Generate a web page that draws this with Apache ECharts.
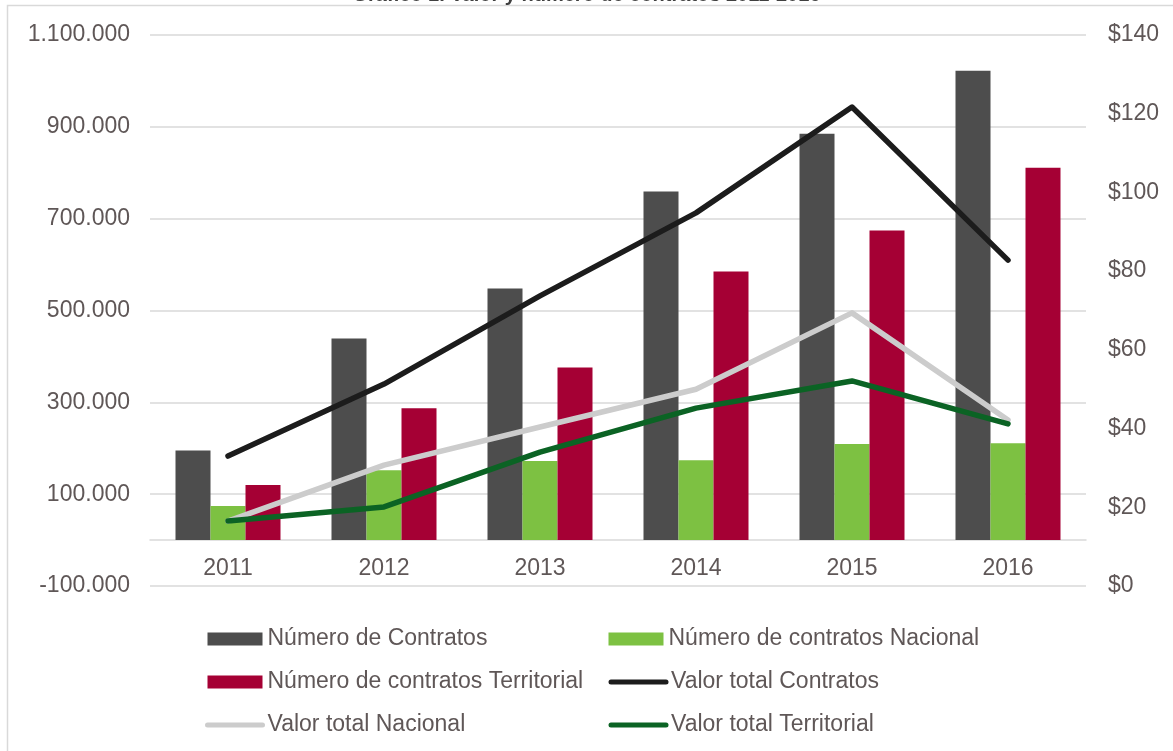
<!DOCTYPE html>
<html>
<head>
<meta charset="utf-8">
<style>
  html, body { margin: 0; padding: 0; background: #ffffff; }
  #chart-container { width: 1173px; height: 751px; }
</style>
<script src="https://cdn.jsdelivr.net/npm/echarts@6/dist/echarts.min.js"></script>
</head>
<body>
<div id="chart-container"></div>
<script>
var years = ['2011', '2012', '2013', '2014', '2015', '2016'];

// Número de contratos (eje izquierdo)
var contratosTotal = [195000, 439000, 548000, 759000, 885000, 1022000];
var contratosNacional = [74000, 152000, 172000, 174000, 209000, 211000];
var contratosTerritorial = [120000, 287000, 376000, 585000, 674000, 811000];

// Valor total en billones (eje derecho)
var valorTotal = [33.0, 51.3, 73.7, 94.8, 121.7, 82.8];
var valorNacional = [16.5, 30.7, 40.4, 50.0, 69.4, 42.2];
var valorTerritorial = [16.5, 20.1, 34.0, 45.2, 52.1, 41.2];

var textColor = '#5f5757';
var fontFamily = '"Liberation Sans", Arial, sans-serif';

var dom = document.getElementById('chart-container');
var myChart = echarts.init(dom, null, { renderer: 'canvas' });

function puntos(v) {
  var s = Math.abs(v).toString().replace(/\B(?=(\d{3})+(?!\d))/g, '.');
  return (v < 0 ? '-' : '') + s;
}

// icono de línea en la leyenda sin el círculo
function lineaLeyenda(nombre) {
  return {
    name: nombre,
    itemStyle: { opacity: 0 },
    lineStyle: { width: 5, cap: 'round' }
  };
}

var option = {
  animation: false,
  backgroundColor: '#ffffff',
  title: {
    text: 'Gráfico 1. Valor y número de contratos 2011-2016',
    left: 'center',
    top: -20,
    textStyle: { color: '#404040', fontSize: 20, fontWeight: 'bold', fontFamily: fontFamily }
  },
  graphic: [{
    type: 'rect',
    shape: { x: 7.5, y: 5.5, width: 1200, height: 800 },
    style: { fill: 'none', stroke: '#d9d9d9', lineWidth: 1.5 },
    silent: true
  }],
  grid: { left: 150, right: 87, top: 35, bottom: 165 },
  legend: {
    left: 200,
    top: 615,
    width: 820,
    itemWidth: 55,
    itemHeight: 13,
    itemGap: 5,
    textStyle: {
      color: textColor, fontSize: 23, fontFamily: fontFamily,
      width: 336, lineHeight: 38, overflow: 'none'
    },
    data: [
      { name: 'Número de Contratos', icon: 'rect' },
      { name: 'Número de contratos Nacional', icon: 'rect' },
      { name: 'Número de contratos Territorial', icon: 'rect' },
      lineaLeyenda('Valor total Contratos'),
      lineaLeyenda('Valor total Nacional'),
      lineaLeyenda('Valor total Territorial')
    ]
  },
  xAxis: {
    type: 'category',
    data: years,
    axisLine: { onZero: true, lineStyle: { color: '#d9d9d9', width: 1.5 } },
    axisTick: { show: false },
    axisLabel: { color: textColor, fontSize: 23, fontFamily: fontFamily, margin: -29 }
  },
  yAxis: [
    {
      type: 'value',
      min: -100000,
      max: 1100000,
      interval: 200000,
      axisLine: { show: false },
      axisTick: { show: false },
      splitLine: { lineStyle: { color: '#d9d9d9', width: 1.5 } },
      axisLabel: {
        color: textColor, fontSize: 23, fontFamily: fontFamily, margin: 20,
        formatter: puntos
      }
    },
    {
      type: 'value',
      min: 0,
      max: 140,
      interval: 20,
      axisLine: { show: false },
      axisTick: { show: false },
      splitLine: { show: false },
      axisLabel: {
        color: textColor, fontSize: 23, fontFamily: fontFamily, margin: 22,
        formatter: function (v) { return '$' + v; }
      }
    }
  ],
  series: [
    {
      name: 'Número de Contratos', type: 'bar', data: contratosTotal,
      barWidth: 35, barGap: '0%', itemStyle: { color: '#4d4d4d' }
    },
    {
      name: 'Número de contratos Nacional', type: 'bar', data: contratosNacional,
      barWidth: 35, barGap: '0%', itemStyle: { color: '#7dc142' }
    },
    {
      name: 'Número de contratos Territorial', type: 'bar', data: contratosTerritorial,
      barWidth: 35, barGap: '0%', itemStyle: { color: '#a50034' }
    },
    {
      name: 'Valor total Contratos', type: 'line', yAxisIndex: 1, data: valorTotal,
      symbol: 'none', itemStyle: { color: '#1c1c1c' },
      lineStyle: { color: '#1c1c1c', width: 5.5, cap: 'round', join: 'round' }
    },
    {
      name: 'Valor total Nacional', type: 'line', yAxisIndex: 1, data: valorNacional,
      symbol: 'none', itemStyle: { color: '#cccccc' },
      lineStyle: { color: '#cccccc', width: 5.5, cap: 'round', join: 'round' }
    },
    {
      name: 'Valor total Territorial', type: 'line', yAxisIndex: 1, data: valorTerritorial,
      symbol: 'none', itemStyle: { color: '#0b6324' },
      lineStyle: { color: '#0b6324', width: 5.5, cap: 'round', join: 'round' }
    }
  ]
};

myChart.setOption(option);
window.addEventListener('resize', myChart.resize);
</script>
</body>
</html>
